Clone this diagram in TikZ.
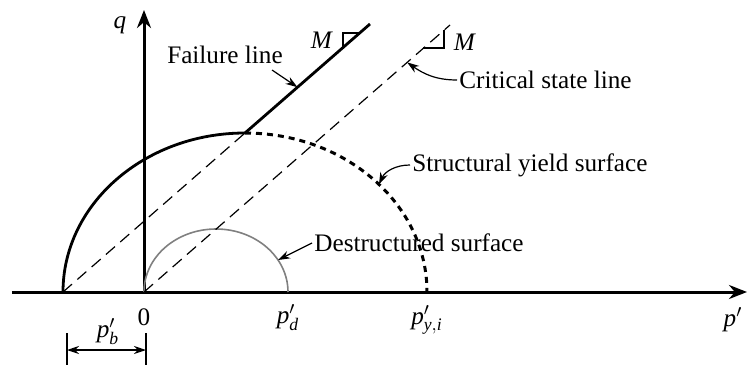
\documentclass[tikz,border=0pt]{standalone}
\usepackage{amsmath}
\usepackage{fontspec}
\setmainfont{Liberation Serif}
\usetikzlibrary{arrows.meta}
\begin{document}
\begin{tikzpicture}[
        x=0.5pt, y=0.5pt,
        font=\fontsize{12.6}{15}\selectfont,
        % line styles
        axis/.style={line width=1.5pt, -{Stealth[length=9pt,width=7pt]}},
        thickline/.style={line width=1.4pt},
        dashline/.style={line width=0.6pt, dash pattern=on 6pt off 3.5pt},
        dotline/.style={line width=1.5pt, dash pattern=on 3pt off 2.5pt},
        label/.style={inner sep=1pt},
        pointer/.style={line width=0.6pt, -{Stealth[length=6pt,width=4pt]}},
        dim/.style={line width=0.6pt, {Stealth[length=6pt,width=4pt]}-{Stealth[length=6pt,width=4pt]}}
    ]
        \useasboundingbox (-144,-73) rectangle (605,292);

        % points
        \coordinate (O) at (0,0);
        \coordinate (B) at (-81,0);
        \coordinate (top) at (101,159);
        \coordinate (fend) at (226,268);
        \coordinate (cend) at (306,267);

        % axes
        \draw[axis] (-132,0) -- (603,0);
        \draw[axis] (O) -- (0,282);

        % structural yield surface (solid to the peak, dotted after)
        \draw[thickline] (B) arc[start angle=180, end angle=90, x radius=182, y radius=159];
        \draw[dotline] (top) arc[start angle=90, end angle=0, x radius=182, y radius=159] coordinate (Y);
        \coordinate (ypt) at ({101+182*cos(42.6)},{159*sin(42.6)});

        % destructured surface
        \draw[gray, line width=0.8pt] (O) arc[start angle=180, end angle=0, x radius=72, y radius=63] coordinate (D);
        \coordinate (dpt) at ({72+72*cos(30.5)},{63*sin(30.5)});

        % failure line and critical state line
        \draw[dashline] (B) -- (top);
        \draw[thickline] (top) -- coordinate[pos=0.42] (fpt) (fend);
        \draw[dashline] (O) -- coordinate[pos=0.86] (cpt) (cend);

        % slope triangles
        \draw[line width=0.6pt] (199,245) |- (216,259);
        \draw[line width=0.6pt] (279,244) -| (300,262);
        \node[label] (m1) at (178,252) {\textit{M}};
        \node[label] (m2) at (321,250) {\textit{M}};

        % axis labels
        \node[label] (q) at (-24,267) {$\textit{q}$};
        \node[label] (pp) at (589,-28) {$\textit{p}'$};
        \node[label] (zero) at (0,-25) {0};
        \node[label] (pd) at (144,-26) {$\textit{p}'_{\textit{d}}$};
        \node[label] (pyi) at (283,-28) {$\textit{p}'_{\textit{y},\textit{i}}$};
        \node[label] (pb) at (-36,-40) {$\textit{p}'_{\textit{b}}$};

        % p'_b dimension
        \draw[line width=0.6pt] (-77,-41) -- (-77,-73);
        \draw[line width=0.6pt] (2,-41) -- (2,-73);
        \draw[dim] (-77,-58) -- (2,-58);

        % descriptions
        \node[label] (fail) at (81,237) {Failure line};
        \draw[pointer] (128,222) -- (fpt);
        \node[label, anchor=west] (csl) at (313,212) {Critical state line};
        \draw[pointer] (csl.west) to[out=180, in=-35] (cpt);
        \node[label, anchor=west] (sys) at (266,127) {Structural yield surface};
        \draw[pointer] (sys.west) to[out=180, in=65] (ypt);
        \node[label, anchor=west] (des) at (168,49) {Destructured surface};
        \draw[pointer] (des.west) -- (dpt);

    \end{tikzpicture}
\end{document}
